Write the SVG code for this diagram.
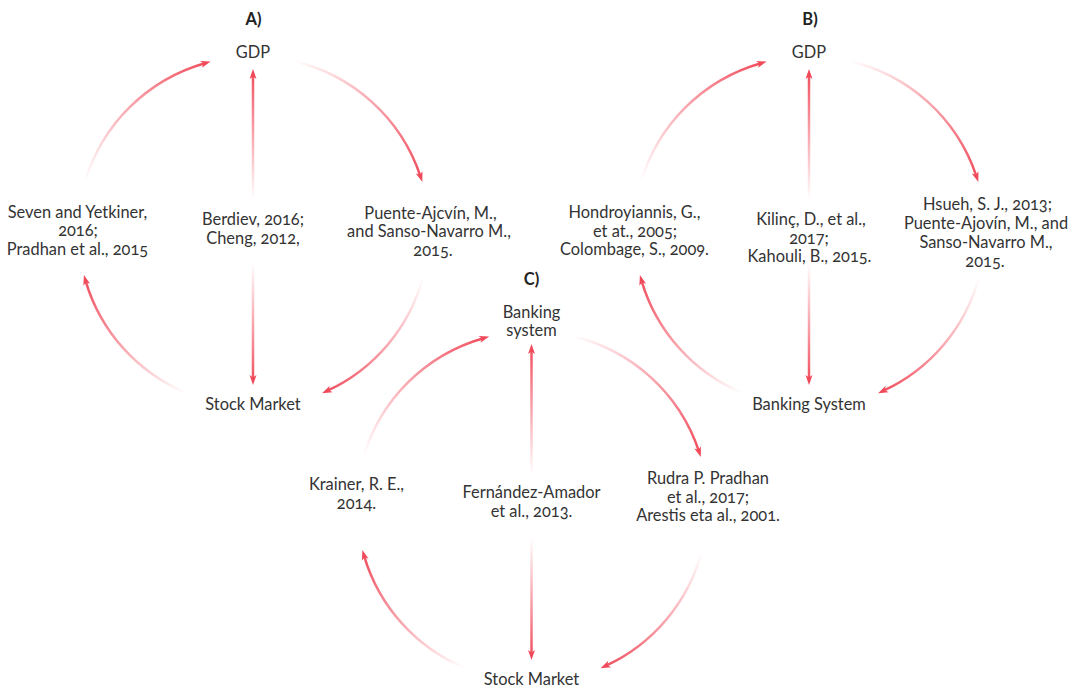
<svg xmlns="http://www.w3.org/2000/svg" width="1081" height="689" viewBox="0 0 1081 689">
<style>
  text { font-family: Lato, "Open Sans", "Liberation Sans", sans-serif; font-size: 16.4px; fill: #333333; text-anchor: middle; font-variant-numeric: oldstyle-nums; }
  .title { font-weight: bold; font-size: 16.5px; fill: #222222; }
  .c { fill: none; stroke-width: 2.5; marker-end: url(#ah); }
</style>
<defs>
  <marker id="ah" viewBox="0 0 10 8" markerWidth="10" markerHeight="8" refX="4" refY="4" orient="auto" markerUnits="userSpaceOnUse">
    <path d="M0,0.5 L10,4 L0,7.5 L2.5,4 z" fill="#F04A5A"/>
  </marker>
  <linearGradient id="gTL" gradientUnits="userSpaceOnUse" x1="85" y1="182" x2="210.7" y2="61.7">
    <stop offset="0" stop-color="#F04A5A" stop-opacity="0"/><stop offset="1" stop-color="#F04A5A" stop-opacity="1"/>
  </linearGradient>
  <linearGradient id="gTR" gradientUnits="userSpaceOnUse" x1="293" y1="61" x2="422" y2="182">
    <stop offset="0" stop-color="#F04A5A" stop-opacity="0"/><stop offset="1" stop-color="#F04A5A" stop-opacity="1"/>
  </linearGradient>
  <linearGradient id="gBR" gradientUnits="userSpaceOnUse" x1="423" y1="277" x2="322" y2="393">
    <stop offset="0" stop-color="#F04A5A" stop-opacity="0"/><stop offset="1" stop-color="#F04A5A" stop-opacity="1"/>
  </linearGradient>
  <linearGradient id="gBL" gradientUnits="userSpaceOnUse" x1="186.7" y1="393" x2="84" y2="275">
    <stop offset="0" stop-color="#F04A5A" stop-opacity="0"/><stop offset="1" stop-color="#F04A5A" stop-opacity="1"/>
  </linearGradient>
  <linearGradient id="gVT" gradientUnits="userSpaceOnUse" x1="0" y1="200" x2="0" y2="69">
    <stop offset="0" stop-color="#F04A5A" stop-opacity="0"/><stop offset="1" stop-color="#F04A5A" stop-opacity="1"/>
  </linearGradient>
  <linearGradient id="gVB" gradientUnits="userSpaceOnUse" x1="0" y1="263" x2="0" y2="385">
    <stop offset="0" stop-color="#F04A5A" stop-opacity="0"/><stop offset="1" stop-color="#F04A5A" stop-opacity="1"/>
  </linearGradient>
</defs>

<g id="connectors">
  <g id="conn-A">
    <path class="c" stroke="url(#gTL)" d="M85,182 A175,175 0 0 1 204.9,63.2"/>
    <path class="c" stroke="url(#gTR)" d="M293,61 A175,175 0 0 1 420.4,176.2"/>
    <path class="c" stroke="url(#gBR)" d="M423,277 A175,175 0 0 1 327.5,390.7"/>
    <path class="c" stroke="url(#gBL)" d="M186.7,393 A175,175 0 0 1 85.6,280.8"/>
    <path class="c" stroke="url(#gVT)" d="M253,200 V75"/>
    <path class="c" stroke="url(#gVB)" d="M253,263 V379"/>
  </g>
  <g id="conn-B" transform="translate(556,0)">
    <path class="c" stroke="url(#gTL)" d="M85,182 A175,175 0 0 1 204.9,63.2"/>
    <path class="c" stroke="url(#gTR)" d="M293,61 A175,175 0 0 1 420.4,176.2"/>
    <path class="c" stroke="url(#gBR)" d="M423,277 A175,175 0 0 1 327.5,390.7"/>
    <path class="c" stroke="url(#gBL)" d="M186.7,393 A175,175 0 0 1 85.6,280.8"/>
    <path class="c" stroke="url(#gVT)" d="M253,200 V75"/>
    <path class="c" stroke="url(#gVB)" d="M253,263 V379"/>
  </g>
  <g id="conn-C" transform="translate(278.5,275)">
    <path class="c" stroke="url(#gTL)" d="M85,182 A175,175 0 0 1 204.9,63.2"/>
    <path class="c" stroke="url(#gTR)" d="M293,61 A175,175 0 0 1 420.4,176.2"/>
    <path class="c" stroke="url(#gBR)" d="M423,277 A175,175 0 0 1 327.5,390.7"/>
    <path class="c" stroke="url(#gBL)" d="M186.7,393 A175,175 0 0 1 85.6,280.8"/>
    <path class="c" stroke="url(#gVT)" d="M253,200 V75"/>
    <path class="c" stroke="url(#gVB)" d="M253,263 V379"/>
  </g>
</g>

<g id="title-A"><text class="title" x="253.5" y="25">A)</text></g>
<g id="A-gdp"><text x="253" y="58">GDP</text></g>
<g id="A-stock"><text x="253" y="410">Stock Market</text></g>
<g id="A-left"><text><tspan x="77.5" y="217.5">Seven and Yetkiner,</tspan><tspan x="78" y="236">2016;</tspan><tspan x="77.5" y="254.5">Pradhan et al., 2015</tspan></text></g>
<g id="A-mid"><text><tspan x="253" y="225">Berdiev, 2016;</tspan><tspan x="253" y="243.5">Cheng, 2012,</tspan></text></g>
<g id="A-right"><text><tspan x="430.5" y="218.5">Puente-Ajcvín, M.,</tspan><tspan x="429" y="237">and Sanso-Navarro M.,</tspan><tspan x="433" y="255.5">2015.</tspan></text></g>

<g id="title-B"><text class="title" x="810" y="25">B)</text></g>
<g id="B-gdp"><text x="809" y="58">GDP</text></g>
<g id="B-bank"><text x="809" y="410">Banking System</text></g>
<g id="B-left"><text><tspan x="634.5" y="218">Hondroyiannis, G.,</tspan><tspan x="635" y="236.5">et at., 2005;</tspan><tspan x="634.5" y="255">Colombage, S., 2009.</tspan></text></g>
<g id="B-mid"><text><tspan x="811" y="225">Kilinç, D., et al.,</tspan><tspan x="809" y="243.5">2017;</tspan><tspan x="809.5" y="262">Kahouli, B., 2015.</tspan></text></g>
<g id="B-right"><text><tspan x="987.5" y="210">Hsueh, S. J., 2013;</tspan><tspan x="986" y="229">Puente-Ajovín, M., and</tspan><tspan x="986" y="248">Sanso-Navarro M.,</tspan><tspan x="985" y="266.5">2015.</tspan></text></g>

<g id="title-C"><text class="title" x="531.5" y="285">C)</text></g>
<g id="C-bank"><text><tspan x="531.5" y="318">Banking</tspan><tspan x="531.5" y="336">system</tspan></text></g>
<g id="C-stock"><text x="531.5" y="685">Stock Market</text></g>
<g id="C-left"><text><tspan x="356.5" y="490">Krainer, R. E.,</tspan><tspan x="356.5" y="508.5">2014.</tspan></text></g>
<g id="C-mid"><text><tspan x="531.5" y="498">Fernández-Amador</tspan><tspan x="531.5" y="516.5">et al., 2013.</tspan></text></g>
<g id="C-right"><text><tspan x="708" y="484">Rudra P. Pradhan</tspan><tspan x="708" y="502.5">et al., 2017;</tspan><tspan x="708" y="521">Arestis eta al., 2001.</tspan></text></g>
</svg>
